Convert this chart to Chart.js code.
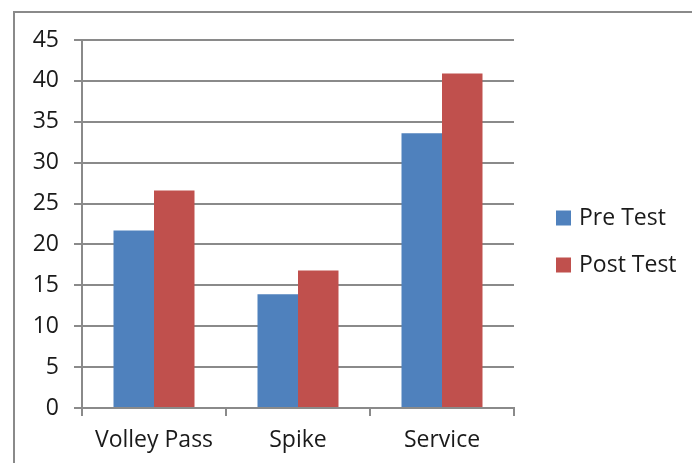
<!DOCTYPE html>
<html>
<head>
<meta charset="utf-8">
<script src="https://cdn.jsdelivr.net/npm/chart.js@4.4.0/dist/chart.umd.min.js"></script>
<style>
  html, body { margin: 0; padding: 0; background: #ffffff; }
  #wrap { width: 692px; height: 463px; position: relative; }
</style>
</head>
<body>
<div id="wrap"><canvas id="c" width="692" height="463"></canvas></div>
<script>
const categories = ["Volley Pass", "Spike", "Service"];
const seriesNames = ["Pre Test", "Post Test"];
const preTest = [21.7, 13.9, 33.6];
const postTest = [26.6, 16.8, 40.9];
const seriesColors = ["#4F81BD", "#C0504D"];
const yMin = 0, yMax = 45, yStep = 5;

const FONT = "'Open Sans', 'Liberation Sans', sans-serif";
const TEXT = "#1a1a1a";
const LINE = "#8a8a8a";

const frame = {
  id: 'frame',
  beforeDraw(chart) {
    const ctx = chart.ctx;
    ctx.save();
    ctx.fillStyle = '#ffffff';
    ctx.fillRect(0, 0, chart.width, chart.height);
    ctx.strokeStyle = LINE;
    ctx.lineWidth = 2;
    ctx.strokeRect(14, 12, chart.width + 20, chart.height + 20);
    ctx.restore();
  }
};

const sideLegend = {
  id: 'sideLegend',
  afterDraw(chart) {
    const ctx = chart.ctx;
    ctx.save();
    ctx.font = "23px " + FONT;
    ctx.textBaseline = 'middle';
    ctx.textAlign = 'left';
    const x0 = chart.chartArea.right + 42;
    const yc = (chart.chartArea.top + chart.chartArea.bottom) / 2 + 18;
    const gap = 47;
    const n = chart.data.datasets.length;
    chart.data.datasets.forEach((ds, i) => {
      const y = yc + (i - (n - 1) / 2) * gap;
      ctx.fillStyle = ds.backgroundColor;
      ctx.fillRect(x0, y - 8, 15, 15);
      ctx.fillStyle = TEXT;
      ctx.fillText(ds.label, x0 + 23, y);
    });
    ctx.restore();
  }
};

new Chart(document.getElementById('c'), {
  type: 'bar',
  data: {
    labels: categories,
    datasets: [
      { label: seriesNames[0], data: preTest, backgroundColor: seriesColors[0], borderWidth: 0 },
      { label: seriesNames[1], data: postTest, backgroundColor: seriesColors[1], borderWidth: 0 }
    ]
  },
  options: {
    responsive: false,
    animation: false,
    devicePixelRatio: 1,
    layout: { padding: { left: 0, top: 40, right: 178, bottom: 0 } },
    plugins: { legend: { display: false }, tooltip: { enabled: false } },
    datasets: { bar: { categoryPercentage: 0.5625, barPercentage: 1 } },
    scales: {
      x: {
        grid: { display: true, drawOnChartArea: false, drawTicks: true, tickLength: 8, color: LINE, lineWidth: 2, offset: true },
        border: { display: true, color: LINE, width: 2 },
        ticks: { color: TEXT, font: { family: FONT, size: 23 }, padding: 11, maxRotation: 0 },
        afterFit(s) { s.height = 55; }
      },
      y: {
        min: yMin, max: yMax,
        grid: { color: LINE, lineWidth: 2, tickLength: 8, drawTicks: true },
        border: { display: true, color: LINE, width: 2 },
        ticks: { stepSize: yStep, color: TEXT, font: { family: FONT, size: 23 }, padding: 15 },
        afterFit(s) { s.width = 82; }
      }
    }
  },
  plugins: [frame, sideLegend]
});
</script>
</body>
</html>
